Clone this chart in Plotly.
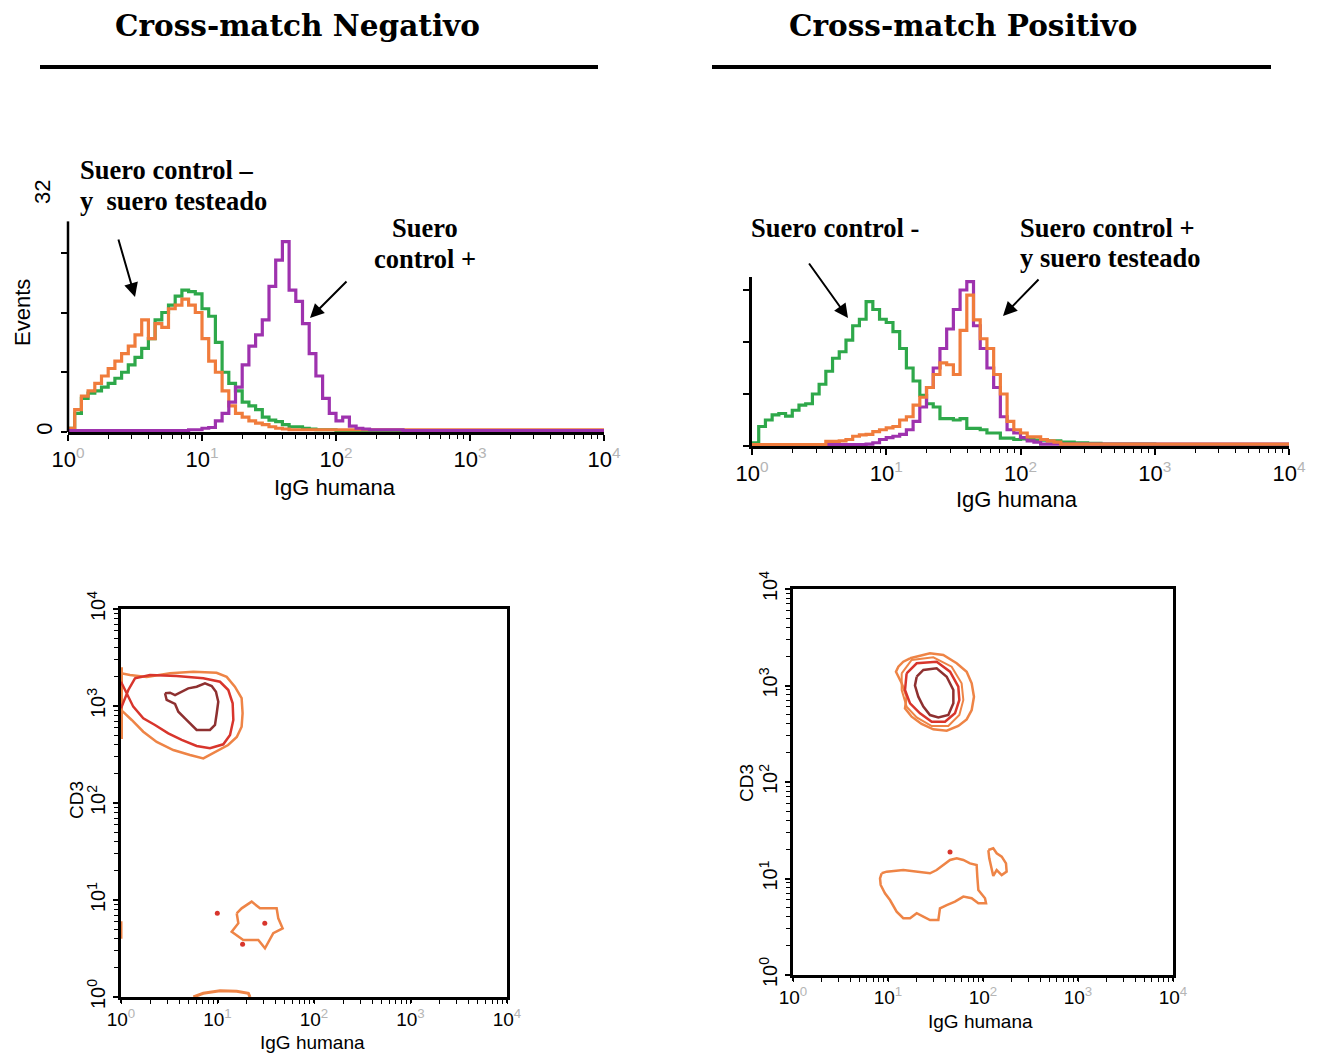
import numpy as np
import plotly.graph_objects as go

# ---------------- data ----------------
BIN_STEP = 0.05  # decades per histogram channel bin (channel i starts at 10**(i*BIN_STEP))
TICK_VALS = [1, 10, 100, 1000, 10000]
TICK_EXP = ["0", "1", "2", "3", "4"]

# Cross-match Negativo histogram (events per channel)
neg_green = [0.5, 2.5, 4.5, 5.2, 5.5, 6.0, 6.5, 7.2, 8.0, 9.0,
             10.0, 11.2, 12.5, 15.0, 16.0, 17.0, 18.2, 19.0, 18.8, 18.5,
             16.5, 15.5, 12.0, 8.0, 6.5, 5.5, 4.0, 3.5, 3.0, 2.0,
             1.6, 1.4, 1.0, 0.7, 0.7, 0.5, 0.4, 0.3, 0.3, 0.3,
             0.2, 0.2, 0.2, 0.2, 0.2, 0.2, 0.2, 0.2, 0.2, 0.2,
             0.2, 0.2, 0.2, 0.2, 0.2, 0.2, 0.2, 0.2, 0.2, 0.2,
             0.2, 0.2, 0.2, 0.2, 0.2, 0.2, 0.2, 0.2, 0.2, 0.2,
             0.2, 0.2, 0.2, 0.2, 0.2, 0.2, 0.2, 0.2, 0.2, 0.2]
neg_orange = [0.5, 3.0, 4.8, 5.5, 6.5, 7.5, 8.5, 9.5, 10.5, 11.5,
              13.0, 15.0, 12.5, 14.5, 14.0, 16.5, 17.0, 17.8, 17.0, 16.0,
              12.5, 9.5, 8.0, 5.5, 3.5, 2.5, 2.0, 1.5, 1.2, 1.0,
              0.7, 0.5, 0.4, 0.3, 0.3, 0.3, 0.3, 0.3, 0.3, 0.3,
              0.3, 0.3, 0.3, 0.3, 0.3, 0.3, 0.3, 0.3, 0.3, 0.3,
              0.3, 0.3, 0.3, 0.3, 0.3, 0.3, 0.3, 0.3, 0.3, 0.3,
              0.3, 0.3, 0.3, 0.3, 0.3, 0.3, 0.3, 0.3, 0.3, 0.3,
              0.3, 0.3, 0.3, 0.3, 0.3, 0.3, 0.3, 0.3, 0.3, 0.3]
neg_purple = [0.2, 0.2, 0.2, 0.2, 0.2, 0.2, 0.2, 0.2, 0.2, 0.2,
              0.2, 0.2, 0.2, 0.2, 0.2, 0.2, 0.2, 0.2, 0.3, 0.3,
              0.5, 0.6, 1.5, 2.5, 4.0, 6.0, 9.0, 11.5, 13.0, 15.0,
              19.5, 23.0, 25.5, 19.0, 17.5, 14.5, 10.5, 7.5, 4.5, 2.5,
              1.5, 2.0, 0.8, 0.5, 0.4, 0.3, 0.3, 0.3, 0.3, 0.3,
              0.2, 0.2, 0.2, 0.2, 0.2, 0.2, 0.2, 0.2, 0.2, 0.2,
              0.2, 0.2, 0.2, 0.2, 0.2, 0.2, 0.2, 0.2, 0.2, 0.2,
              0.2, 0.2, 0.2, 0.2, 0.2, 0.2, 0.2, 0.2, 0.2, 0.2]

# Cross-match Positivo histogram
pos_green = [0.5, 3.0, 4.0, 4.8, 5.0, 4.6, 5.5, 6.3, 6.5, 8.0,
             9.5, 11.5, 13.5, 14.5, 16.3, 18.5, 19.5, 22.2, 21.0, 19.5,
             19.0, 17.6, 15.0, 12.0, 10.0, 7.8, 6.5, 6.0, 4.2, 4.2,
             4.0, 4.2, 2.7, 2.7, 2.5, 2.0, 2.0, 1.2, 1.2, 1.0,
             1.1, 1.0, 0.9, 0.9, 0.8, 0.8, 0.6, 0.6, 0.5, 0.5,
             0.4, 0.4, 0.3, 0.3, 0.3, 0.3, 0.3, 0.3, 0.3, 0.3,
             0.2, 0.2, 0.2, 0.2, 0.2, 0.2, 0.2, 0.2, 0.2, 0.2,
             0.2, 0.2, 0.2, 0.2, 0.2, 0.2, 0.2, 0.2, 0.2, 0.2]
pos_purple = [0.2, 0.2, 0.2, 0.2, 0.2, 0.2, 0.2, 0.2, 0.2, 0.2,
              0.2, 0.2, 0.2, 0.2, 0.2, 0.2, 0.2, 0.3, 0.5, 1.0,
              1.3, 1.5, 1.8, 2.5, 3.8, 6.0, 9.0, 12.0, 15.0, 18.0,
              21.0, 24.0, 25.3, 18.5, 15.0, 12.0, 9.0, 4.5, 2.5, 2.0,
              1.3, 0.8, 0.6, 0.3, 0.3, 0.3, 0.3, 0.3, 0.3, 0.3,
              0.3, 0.3, 0.3, 0.3, 0.3, 0.3, 0.3, 0.3, 0.3, 0.3,
              0.3, 0.3, 0.3, 0.3, 0.3, 0.3, 0.3, 0.3, 0.3, 0.3,
              0.3, 0.3, 0.3, 0.3, 0.3, 0.3, 0.3, 0.3, 0.3, 0.3]
pos_orange = [0.2, 0.2, 0.2, 0.2, 0.2, 0.2, 0.2, 0.2, 0.2, 0.2,
              0.2, 0.7, 0.7, 0.8, 1.0, 1.5, 1.7, 1.8, 2.2, 2.5,
              2.8, 3.0, 4.0, 4.5, 6.3, 7.5, 9.0, 11.0, 12.8, 12.5,
              11.0, 17.8, 23.2, 19.4, 16.5, 15.0, 11.0, 8.0, 3.8, 2.5,
              2.0, 1.4, 1.4, 1.0, 0.8, 0.6, 0.3, 0.3, 0.3, 0.3,
              0.3, 0.3, 0.3, 0.3, 0.3, 0.3, 0.3, 0.3, 0.3, 0.3,
              0.3, 0.3, 0.3, 0.3, 0.3, 0.3, 0.3, 0.3, 0.3, 0.3,
              0.3, 0.3, 0.3, 0.3, 0.3, 0.3, 0.3, 0.3, 0.3, 0.3]

# Contour outlines, in decades: log10(IgG humana), log10(CD3)
neg_outer_lx = [0.0, 0.093, 0.266, 0.508, 0.75, 0.99, 1.095, 1.18, 1.25, 1.26, 1.25,
                1.20, 1.11, 0.99, 0.853, 0.715, 0.542, 0.37, 0.231, 0.111, 0.041, 0.0, 0.0]
neg_outer_ly = [3.337, 3.32, 3.30, 3.337, 3.354, 3.343, 3.30, 3.20, 3.08, 2.925, 2.787,
                2.68, 2.598, 2.53, 2.46, 2.495, 2.546, 2.63, 2.735, 2.856, 2.925, 2.96, 3.337]
neg_axis_lx = [0.0, 0.0]
neg_axis_ly = [2.66, 3.40]
neg_mid_lx = [0.0, 0.076, 0.145, 0.30, 0.577, 0.853, 1.026, 1.112, 1.157, 1.164, 1.13,
              1.06, 0.922, 0.784, 0.629, 0.49, 0.352, 0.231, 0.127, 0.059, 0.0]
neg_mid_ly = [2.976, 3.165, 3.285, 3.32, 3.309, 3.285, 3.25, 3.165, 3.028, 2.856, 2.70,
              2.605, 2.564, 2.588, 2.65, 2.718, 2.804, 2.873, 2.993, 3.131, 3.25]
neg_inner_lx = [0.456, 0.473, 0.56, 0.594, 0.663, 0.733, 0.784, 0.922, 0.974, 0.992, 1.008,
                0.984, 0.94, 0.87, 0.784, 0.697, 0.629, 0.56, 0.508, 0.456]
neg_inner_ly = [3.131, 3.062, 3.021, 2.941, 2.873, 2.804, 2.753, 2.753, 2.804, 2.925, 3.044,
                3.147, 3.206, 3.234, 3.199, 3.182, 3.147, 3.113, 3.137, 3.131]
neg_low_lx = [1.199, 1.25, 1.354, 1.44, 1.613, 1.63, 1.675, 1.578, 1.492, 1.423, 1.267,
              1.147, 1.216, 1.199]
neg_low_ly = [0.863, 0.914, 0.983, 0.914, 0.914, 0.811, 0.708, 0.657, 0.502, 0.588, 0.588,
              0.673, 0.76, 0.863]
neg_base_lx = [0.75, 0.853, 1.026, 1.199, 1.32, 1.337]
neg_base_ly = [0.0, 0.038, 0.065, 0.06, 0.038, 0.0]
neg_edge_lx = [0.0, 0.0]
neg_edge_ly = [0.6, 0.78]
neg_dots_lx = [0.998, 1.49, 1.26]
neg_dots_ly = [0.863, 0.76, 0.543]

pos_outer_lx = [1.232, 1.442, 1.582, 1.723, 1.828, 1.881, 1.905, 1.881, 1.828, 1.74, 1.618,
                1.477, 1.354, 1.249, 1.179, 1.196, 1.144, 1.084, 1.109, 1.161, 1.232]
pos_outer_ly = [3.282, 3.333, 3.316, 3.23, 3.143, 3.023, 2.884, 2.746, 2.649, 2.58, 2.532,
                2.546, 2.601, 2.677, 2.763, 2.884, 3.023, 3.143, 3.195, 3.247, 3.282]
pos_ring2_lx = [1.144, 1.249, 1.477, 1.67, 1.775, 1.793, 1.751, 1.635, 1.46, 1.302, 1.196,
                1.144, 1.144]
pos_ring2_ly = [3.126, 3.264, 3.292, 3.195, 3.023, 2.85, 2.694, 2.58, 2.58, 2.67, 2.781,
                2.953, 3.126]
pos_mid_lx = [1.196, 1.302, 1.512, 1.653, 1.74, 1.751, 1.705, 1.6, 1.46, 1.337, 1.232,
              1.179, 1.196]
pos_mid_ly = [3.126, 3.23, 3.247, 3.143, 2.988, 2.85, 2.712, 2.625, 2.625, 2.712, 2.815,
              2.953, 3.126]
pos_inner_lx = [1.302, 1.372, 1.512, 1.618, 1.688, 1.688, 1.635, 1.53, 1.442, 1.372, 1.319,
                1.284, 1.302]
pos_inner_ly = [3.091, 3.161, 3.178, 3.091, 2.953, 2.815, 2.694, 2.67, 2.694, 2.781, 2.884,
                3.0, 3.091]
pos_low_lx = [0.933, 0.986, 1.161, 1.302, 1.442, 1.512, 1.582, 1.653, 1.723, 1.793, 1.863,
              1.933, 1.94, 1.951, 2.021, 2.032, 1.951, 1.881, 1.793, 1.705, 1.618, 1.547,
              1.53, 1.442, 1.372, 1.302, 1.232, 1.161, 1.091, 1.021, 0.968, 0.923, 0.916, 0.933]
pos_low_ly = [1.054, 1.071, 1.088, 1.071, 1.054, 1.088, 1.14, 1.192, 1.209, 1.192, 1.157,
              1.14, 1.019, 0.881, 0.795, 0.743, 0.743, 0.795, 0.812, 0.76, 0.725, 0.691,
              0.57, 0.57, 0.604, 0.64, 0.588, 0.588, 0.656, 0.777, 0.847, 0.933, 1.002, 1.054]
pos_side_lx = [2.056, 2.108, 2.144, 2.197, 2.242, 2.249, 2.197, 2.144, 2.108, 2.091, 2.066, 2.056]
pos_side_ly = [1.295, 1.313, 1.261, 1.226, 1.157, 1.071, 1.036, 1.088, 1.026, 1.105, 1.209, 1.295]
pos_dots_lx = [1.653]
pos_dots_ly = [1.275]

# ---------------- style ----------------
GREEN = "#2EA84A"
ORANGE = "#F07C3C"
PURPLE = "#9E32AE"
C_ORANGE = "#EE8446"
C_RED = "#D8352C"
C_DARK = "#8E3030"
OFF = 8  # the page places the figure 8 px from the window's top-left corner
W, H = 1329 - OFF, 1053 - OFF


def px_x(p):
    return (p - OFF) / W


def px_y(p):
    return 1 - (p - OFF) / H


def tick_text(grey=True):
    col = "#b5b5b5" if grey else "#000000"
    return [f"10<sup><span style='color:{col}'>{e}</span></sup>" for e in TICK_EXP]


fig = go.Figure()


def add_hist(vals, color, xa, ya):
    x = list(10 ** (BIN_STEP * np.arange(len(vals)))) + [TICK_VALS[-1]]
    y = list(vals) + [vals[-1]]
    fig.add_trace(go.Scatter(x=x, y=y, mode="lines", line=dict(color=color, width=3.2, shape="hv"),
                             xaxis=xa, yaxis=ya, hoverinfo="skip"))


add_hist(neg_green, GREEN, "x", "y")
add_hist(neg_orange, ORANGE, "x", "y")
add_hist(neg_purple, PURPLE, "x", "y")
add_hist(pos_green, GREEN, "x2", "y2")
add_hist(pos_purple, PURPLE, "x2", "y2")
add_hist(pos_orange, ORANGE, "x2", "y2")


def add_path(lx, ly, color, xa, ya, width=2.5, mode="lines"):
    fig.add_trace(go.Scatter(x=[10 ** v for v in lx], y=[10 ** v for v in ly], mode=mode,
                             line=dict(color=color, width=width),
                             marker=dict(color=color, size=5),
                             xaxis=xa, yaxis=ya, hoverinfo="skip"))


add_path(neg_axis_lx, neg_axis_ly, C_ORANGE, "x3", "y3", width=4)
add_path(neg_edge_lx, neg_edge_ly, C_ORANGE, "x3", "y3", width=3)
add_path(neg_outer_lx, neg_outer_ly, C_ORANGE, "x3", "y3")
add_path(neg_mid_lx, neg_mid_ly, C_RED, "x3", "y3")
add_path(neg_inner_lx, neg_inner_ly, C_DARK, "x3", "y3")
add_path(neg_low_lx, neg_low_ly, C_ORANGE, "x3", "y3")
add_path(neg_base_lx, neg_base_ly, C_ORANGE, "x3", "y3", width=3)
add_path(neg_dots_lx, neg_dots_ly, C_RED, "x3", "y3", mode="markers")

add_path(pos_outer_lx, pos_outer_ly, C_ORANGE, "x4", "y4")
add_path(pos_ring2_lx, pos_ring2_ly, C_ORANGE, "x4", "y4", width=2)
add_path(pos_mid_lx, pos_mid_ly, C_RED, "x4", "y4")
add_path(pos_inner_lx, pos_inner_ly, C_DARK, "x4", "y4")
add_path(pos_low_lx, pos_low_ly, C_ORANGE, "x4", "y4")
add_path(pos_side_lx, pos_side_ly, C_ORANGE, "x4", "y4")
add_path(pos_dots_lx, pos_dots_ly, C_RED, "x4", "y4", mode="markers")

AX_FONT = dict(family="Liberation Sans, Arial, sans-serif", color="black")
minor = dict(ticks="outside", ticklen=4, tickwidth=1, tickcolor="black", dtick="D1")


def log_x(domain, size, mirror=False, ticklen=6):
    return dict(type="log", range=[0, 4], domain=domain, showline=True, linecolor="black",
                linewidth=2.5, mirror=mirror, ticks="outside", ticklen=ticklen, tickwidth=1.5,
                tickcolor="black", tickvals=TICK_VALS, ticktext=tick_text(True),
                tickfont=dict(size=size, **AX_FONT), showgrid=False, zeroline=False,
                minor=minor, fixedrange=True, automargin=False)


lay = dict(width=W, height=H, margin=dict(l=0, r=0, t=0, b=0, pad=0, autoexpand=False),
           showlegend=False, paper_bgcolor="white", plot_bgcolor="white", template="none")

lay["xaxis"] = log_x([px_x(68), px_x(604)], 22)
lay["yaxis"] = dict(range=[0, 32], domain=[px_y(432), px_y(193)], showline=False,
                    ticks="outside", ticklen=6, tickwidth=1.5, tickcolor="black",
                    tickvals=[0, 8, 16, 24], ticktext=["0", "", "", ""], tickangle=-90,
                    tickfont=dict(size=22, **AX_FONT), showgrid=False, zeroline=False,
                    fixedrange=True, automargin=False)
lay["xaxis2"] = log_x([px_x(752), px_x(1289)], 22)
lay["xaxis2"]["anchor"] = "y2"
lay["yaxis2"] = dict(range=[0, 26], domain=[px_y(446), px_y(277)], showline=True,
                     linecolor="black", linewidth=2.5, anchor="x2",
                     ticks="outside", ticklen=6, tickwidth=1.5, tickcolor="black",
                     tickvals=[0, 8, 16, 24], showticklabels=False, showgrid=False,
                     zeroline=False, fixedrange=True, automargin=False)
lay["xaxis3"] = log_x([px_x(121), px_x(507)], 19, mirror=True, ticklen=3)
lay["xaxis3"]["anchor"] = "y3"
lay["xaxis3"]["layer"] = "below traces"
lay["yaxis3"] = dict(type="log", range=[0, 4], domain=[px_y(997), px_y(609)], anchor="x3",
                     showline=True, linecolor="black", linewidth=2.5, mirror=True,
                     ticks="outside", ticklen=5, tickwidth=1.5, tickcolor="black",
                     tickvals=TICK_VALS, ticktext=tick_text(False), tickangle=-90,
                     tickfont=dict(size=20, **AX_FONT), showgrid=False, zeroline=False,
                     minor=minor, layer="below traces", fixedrange=True, automargin=False)
lay["xaxis4"] = log_x([px_x(793), px_x(1173)], 19, mirror=True, ticklen=3)
lay["xaxis4"]["anchor"] = "y4"
lay["yaxis4"] = dict(type="log", range=[0, 4], domain=[px_y(975), px_y(589)], anchor="x4",
                     showline=True, linecolor="black", linewidth=2.5, mirror=True,
                     ticks="outside", ticklen=5, tickwidth=1.5, tickcolor="black",
                     tickvals=TICK_VALS, ticktext=tick_text(False), tickangle=-90,
                     tickfont=dict(size=20, **AX_FONT), showgrid=False, zeroline=False,
                     minor=minor, fixedrange=True, automargin=False)
fig.update_layout(**lay)

# panel 1 y-axis line (drawn as in the scan, shorter than the 32 mark)
fig.add_shape(type="line", xref="x domain", yref="y", x0=0, x1=0, y0=0, y1=28.2,
              line=dict(color="black", width=2.5))

# titles and underlines
TITLE_FONT = dict(family="DejaVu Serif, serif", size=29.5, color="black")
fig.add_annotation(text="<b>Cross-match Negativo</b>", x=px_x(297), y=px_y(25), xref="paper",
                   yref="paper", showarrow=False, font=TITLE_FONT, xanchor="center", yanchor="middle")
fig.add_annotation(text="<b>Cross-match Positivo</b>", x=px_x(963), y=px_y(25), xref="paper",
                   yref="paper", showarrow=False, font=TITLE_FONT, xanchor="center", yanchor="middle")
for a, b in [(40, 598), (712, 1271)]:
    fig.add_shape(type="line", xref="paper", yref="paper", x0=px_x(a), x1=px_x(b),
                  y0=px_y(67), y1=px_y(67), line=dict(color="black", width=4))

# labels inside the histograms
LBL_FONT = dict(family="Liberation Serif, Times New Roman, serif", size=26.5, color="black")


def label(text, x, y, anchor="left"):
    fig.add_annotation(text=f"<b>{text}</b>", x=px_x(x), y=px_y(y), xref="paper", yref="paper",
                       showarrow=False, font=LBL_FONT, xanchor=anchor, yanchor="middle")


label("Suero control \u2013", 78, 170)
label("y\u00a0\u00a0suero testeado", 78, 201)
label("Suero", 425, 228, "center")
label("control +", 425, 259, "center")
label("Suero control -", 749, 228)
label("Suero control +", 1018, 228)
label("y suero testeado", 1018, 258)


def arrow(tail, head):
    fig.add_annotation(text="", x=px_x(head[0]), y=px_y(head[1]), xref="paper", yref="paper",
                       ax=tail[0] - head[0], ay=tail[1] - head[1], showarrow=True,
                       arrowhead=2, arrowsize=1.4, arrowwidth=2, arrowcolor="black")


arrow((118, 238), (135, 297))
arrow((348, 280), (310, 318))
arrow((808, 262), (848, 318))
arrow((1040, 278), (1003, 316))

# axis titles
TITLE_AX = dict(family="Liberation Sans, Arial, sans-serif", color="black")


def ax_title(text, x, y, size, angle=0):
    fig.add_annotation(text=text, x=px_x(x), y=px_y(y), xref="paper", yref="paper",
                       showarrow=False, font=dict(size=size, **TITLE_AX), textangle=angle,
                       xanchor="center", yanchor="middle")


ax_title("Events", 22, 313, 22, -90)
ax_title("32", 43, 192, 22, -90)
ax_title("IgG humana", 335, 488, 22)
ax_title("IgG humana", 1017, 500, 22)
ax_title("IgG humana", 312, 1042, 19)
ax_title("IgG humana", 980, 1021, 19)
ax_title("CD3", 76, 800, 19, -90)
ax_title("CD3", 746, 783, 19, -90)

fig.write_html("out.html")
